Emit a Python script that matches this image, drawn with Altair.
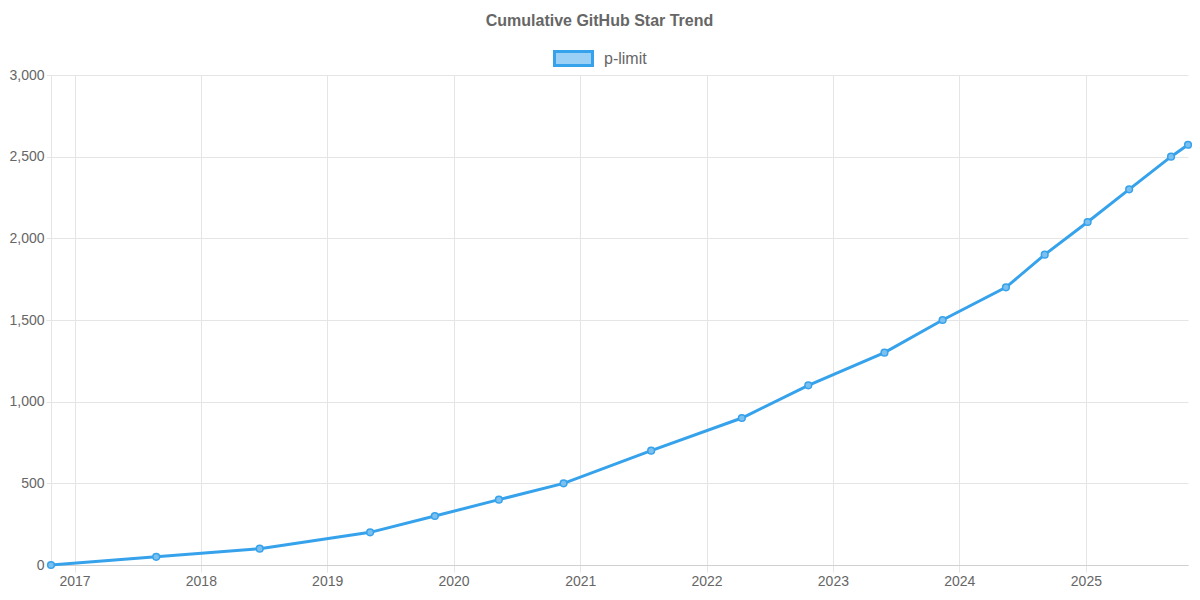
import altair as alt
import pandas as pd

dates = [
    "2016-10-25", "2017-08-25", "2018-06-20", "2019-05-05", "2019-11-08",
    "2020-05-11", "2020-11-14", "2021-07-25", "2022-04-13", "2022-10-22",
    "2023-05-30", "2023-11-14", "2024-05-15", "2024-09-04", "2025-01-06",
    "2025-05-06", "2025-09-04", "2025-10-23",
]
stars = [0, 50, 100, 200, 300, 400, 500, 700, 900, 1100,
         1300, 1500, 1700, 1900, 2100, 2300, 2500, 2573]
series = ["p-limit"] * len(dates)
y_ticks = [0, 500, 1000, 1500, 2000, 2500, 3000]

df = pd.DataFrame({"date": pd.to_datetime(dates), "stars": stars, "repo": series})

FONT = "Liberation Sans"
GRID = "#e5e5e5"
TEXT = "#666666"
BLUE = "#36a2eb"
LIGHT = "#9ad0f5"

x = alt.X(
    "date:T",
    scale=alt.Scale(domain=[dates[0], dates[-1]], nice=False),
    axis=alt.Axis(
        title=None, format="%Y", labelAngle=0,
        tickCount=alt.TickCount(interval="year", step=1),
        grid=True, gridColor=GRID, tickColor=GRID, tickSize=7,
        domainColor="#d0d0d0", labelColor=TEXT, labelFontSize=14,
        labelFont=FONT, labelPadding=2, labelFlush=False,
    ),
)
y = alt.Y(
    "stars:Q",
    scale=alt.Scale(domain=[0, 3000], nice=False),
    axis=alt.Axis(
        title=None, values=y_ticks, format=",d",
        grid=True, gridColor=GRID, tickColor=GRID, tickSize=5,
        domainColor=GRID, labelColor=TEXT, labelFontSize=14,
        labelFont=FONT, labelPadding=2,
    ),
)
color = alt.Color(
    "repo:N",
    scale=alt.Scale(domain=["p-limit"], range=[BLUE]),
    legend=alt.Legend(
        title=None, orient="none", legendX=501, legendY=-38,
        symbolType="M-0.95,-0.35L0.95,-0.35L0.95,0.35L-0.95,0.35Z",
        symbolSize=1600, symbolFillColor=LIGHT, symbolStrokeColor=BLUE,
        symbolStrokeWidth=3, symbolOpacity=1,
        labelFontSize=16, labelColor=TEXT, labelFont=FONT, labelOffset=9,
        padding=0,
    ),
)

line = alt.Chart(df).mark_line(strokeWidth=3).encode(x=x, y=y, color=color)
pts = alt.Chart(df).mark_point(
    filled=True, size=45, fill="#7cc0f0", stroke=BLUE, strokeWidth=1.5, opacity=1
).encode(x=x, y=y)

chart = (
    alt.layer(line, pts)
    .properties(
        width=1137, height=490,
        padding={"left": 43, "top": 67, "right": 4, "bottom": 23},
        autosize=alt.AutoSizeParams(type="none"),
        title=alt.TitleParams(
            "Cumulative GitHub Star Trend", anchor="middle",
            font=FONT, fontSize=16, fontWeight="bold", color=TEXT,
            dx=-20, offset=8,
        ),
    )
    .configure_view(stroke=None)
)

chart.save("out.html", embed_options={"renderer": "svg", "actions": False})
